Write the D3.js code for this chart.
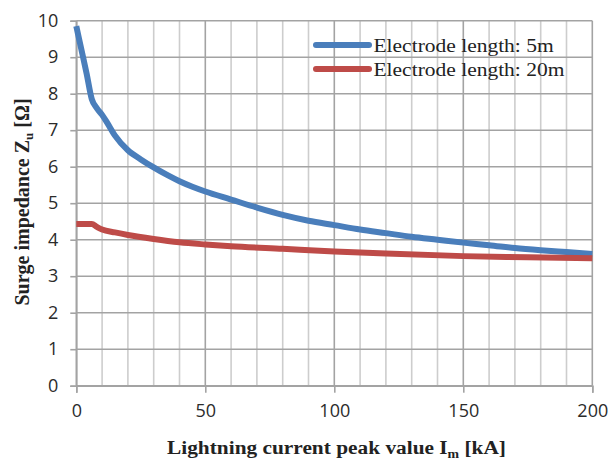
<!DOCTYPE html>
<html>
<head>
<meta charset="utf-8">
<script src="https://cdn.jsdelivr.net/npm/d3@7"></script>
<style>
  html, body { margin: 0; padding: 0; background: #fff; }
  svg { display: block; }
</style>
</head>
<body>
<div id="chart"></div>
<script>
// Surge impedance vs lightning current peak value
const current5m = [0, 2, 4, 6, 8, 10, 12, 15, 20, 25, 30, 35, 40, 45, 50, 60, 70, 80, 90, 100,
  110, 120, 130, 140, 150, 160, 170, 180, 190, 200];
const impedance5m = [9.85, 9.2, 8.55, 7.85, 7.6, 7.42, 7.2, 6.85, 6.45, 6.2, 5.98, 5.78, 5.6, 5.45, 5.32, 5.1, 4.88, 4.68, 4.52, 4.4,
  4.28, 4.18, 4.08, 4.0, 3.92, 3.85, 3.77, 3.71, 3.66, 3.61];

const current20m = [0, 3, 6, 8, 10, 15, 20, 30, 40, 50, 60, 80, 100, 120, 150, 175, 200];
const impedance20m = [4.43, 4.43, 4.43, 4.35, 4.28, 4.2, 4.13, 4.02, 3.93, 3.87, 3.82, 3.75, 3.68, 3.62, 3.55, 3.52, 3.49];

const seriesNames = ["Electrode length: 5m", "Electrode length: 20m"];
const seriesColors = ["#4a7ebb", "#be4b48"];

const xTicks = [0, 50, 100, 150, 200];
const xMinorTicks = d3.range(0, 201, 10);
const yTicks = [0, 1, 2, 3, 4, 5, 6, 7, 8, 9, 10];

(function () {
  const WIDTH = 610;
  const HEIGHT = 460;
  const plot = { left: 76.3, right: 592.3, top: 20.7, bottom: 385.7 };

  const svg = d3.select("#chart").append("svg")
    .attr("width", WIDTH)
    .attr("height", HEIGHT);

  const x = d3.scaleLinear().domain([0, 200]).range([plot.left, plot.right]);
  const y = d3.scaleLinear().domain([0, 10]).range([plot.bottom, plot.top]);

  const MAJOR = "#a3a3a3";
  const MINOR = "#cdcdcd";

  // stretch a text element horizontally so it spans the target width
  function fitWidth(sel, target, cx, cy, anchor) {
    const w = sel.node().getComputedTextLength();
    const s = target / w;
    sel.attr("transform", `translate(${cx},${cy}) scale(${s},1)`);
    return s;
  }

  // minor vertical grid
  svg.append("g")
    .selectAll("line")
    .data(xMinorTicks.filter(d => d % 50 !== 0))
    .enter().append("line")
    .attr("x1", d => x(d)).attr("x2", d => x(d))
    .attr("y1", plot.top).attr("y2", plot.bottom)
    .attr("stroke", MINOR)
    .attr("stroke-width", 1.6);

  // major vertical grid
  svg.append("g")
    .selectAll("line")
    .data(xTicks)
    .enter().append("line")
    .attr("x1", d => x(d)).attr("x2", d => x(d))
    .attr("y1", plot.top).attr("y2", plot.bottom)
    .attr("stroke", MAJOR)
    .attr("stroke-width", 1.6);

  // horizontal grid
  svg.append("g")
    .selectAll("line")
    .data(yTicks)
    .enter().append("line")
    .attr("x1", plot.left).attr("x2", plot.right)
    .attr("y1", d => y(d)).attr("y2", d => y(d))
    .attr("stroke", MAJOR)
    .attr("stroke-width", 1.6);

  // Y axis
  const yAxis = svg.append("g")
    .attr("transform", `translate(${plot.left},0)`)
    .call(d3.axisLeft(y).tickValues(yTicks).tickSize(6).tickPadding(12).tickFormat(d3.format("d")));
  yAxis.select(".domain").attr("stroke", MAJOR).attr("stroke-width", 1.6);
  yAxis.selectAll(".tick line").attr("stroke", MAJOR).attr("stroke-width", 1.6);
  yAxis.selectAll(".tick text")
    .style("font-family", "'Open Sans', sans-serif")
    .style("font-size", "18px")
    .attr("fill", "#2b2b2b");

  // X axis
  const xAxis = svg.append("g")
    .attr("transform", `translate(0,${plot.bottom})`)
    .call(d3.axisBottom(x).tickValues(xTicks).tickSize(7).tickPadding(12).tickFormat(d3.format("d")));
  xAxis.select(".domain").attr("stroke", MAJOR).attr("stroke-width", 1.6);
  xAxis.selectAll(".tick line").attr("stroke", MAJOR).attr("stroke-width", 1.6);
  xAxis.selectAll(".tick text")
    .style("font-family", "'Open Sans', sans-serif")
    .style("font-size", "18px")
    .attr("fill", "#2b2b2b");

  // series lines
  const line = d3.line()
    .x(d => x(d[0]))
    .y(d => y(d[1]))
    .curve(d3.curveMonotoneX);

  const series = [
    d3.zip(current5m, impedance5m),
    d3.zip(current20m, impedance20m),
  ];

  svg.append("g")
    .selectAll("path")
    .data(series)
    .enter().append("path")
    .attr("d", line)
    .attr("fill", "none")
    .attr("stroke", (d, i) => seriesColors[i])
    .attr("stroke-width", 6)
    .attr("stroke-linejoin", "round")
    .attr("stroke-linecap", "butt");

  // legend
  const legend = svg.append("g");
  const legendRows = seriesNames.map((name, i) => ({ name, color: seriesColors[i], y: 45 + i * 24 }));

  legend.selectAll("line")
    .data(legendRows)
    .enter().append("line")
    .attr("x1", 316).attr("x2", 369)
    .attr("y1", d => d.y).attr("y2", d => d.y)
    .attr("stroke", d => d.color)
    .attr("stroke-width", 6)
    .attr("stroke-linecap", "round");

  const legendText = legend.selectAll("text")
    .data(legendRows)
    .enter().append("text")
    .attr("x", 0).attr("y", 0)
    .style("font-family", "'Liberation Serif', 'Times New Roman', serif")
    .style("font-size", "18px")
    .attr("fill", "#222")
    .text(d => d.name);

  const w2 = legendText.filter((d, i) => i === 1).node().getComputedTextLength();
  const sLegend = 191 / w2;
  legendText.attr("transform", d => `translate(373.5,${d.y + 7}) scale(${sLegend},1)`);

  // X axis title
  const xTitle = svg.append("text")
    .attr("x", 0).attr("y", 0)
    .attr("text-anchor", "middle")
    .style("font-family", "'Liberation Serif', 'Times New Roman', serif")
    .style("font-size", "18.5px")
    .style("font-weight", "bold")
    .attr("fill", "#222");
  xTitle.append("tspan").text("Lightning current peak value I");
  xTitle.append("tspan").attr("dy", 4).style("font-size", "12px").text("m");
  xTitle.append("tspan").attr("dy", -4).text(" [kA]");
  fitWidth(xTitle, 339, 336.5, 454);

  // Y axis title
  const yTitle = svg.append("text")
    .attr("transform", `translate(29,202) rotate(-90)`)
    .attr("text-anchor", "middle")
    .style("font-family", "'Liberation Serif', 'Times New Roman', serif")
    .style("font-size", "20px")
    .style("font-weight", "bold")
    .attr("fill", "#222");
  yTitle.append("tspan").text("Surge impedance Z");
  yTitle.append("tspan").attr("dy", 4).style("font-size", "13px").text("u");
  yTitle.append("tspan").attr("dy", -4).text(" [Ω]");
})();
</script>
</body>
</html>
